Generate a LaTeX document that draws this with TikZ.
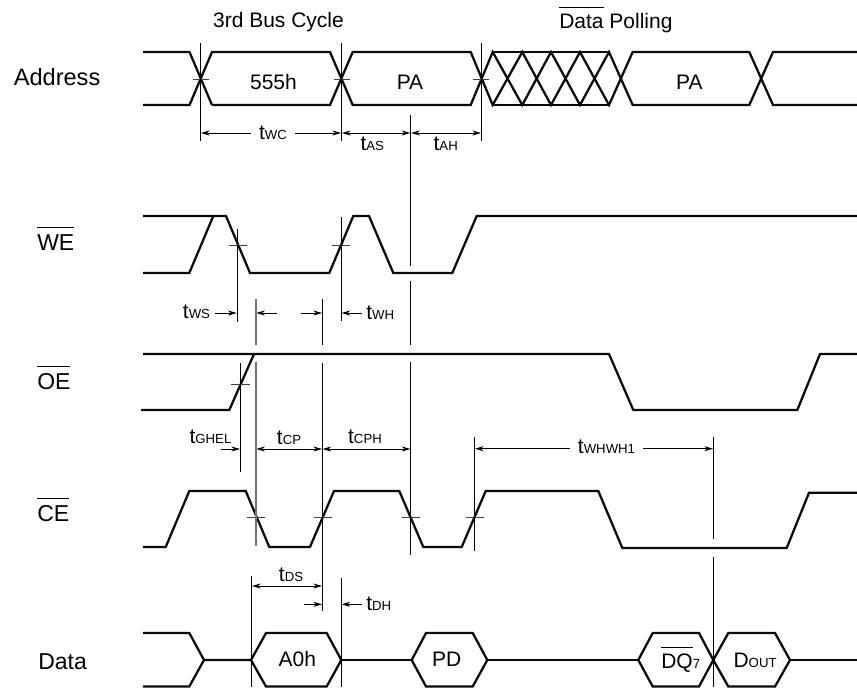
\documentclass[tikz,border=0pt]{standalone}
\usepackage{fontspec}
\usepackage{calc}
\setmainfont{Liberation Sans}
\usetikzlibrary{arrows.meta}
\definecolor{sig}{HTML}{0A0A0A}
\newcommand{\bigf}{\fontsize{15.75}{18}\selectfont}
\newcommand{\lblf}{\fontsize{17.25}{20}\selectfont}
\newcommand{\smf}{\fontsize{9.9}{12}\selectfont}
\newcommand{\tm}[1]{{\bigf t}{\smf #1}}
\newcommand{\ovl}[1]{\leavevmode\rlap{\raisebox{0.98em}{\rule{\widthof{#1}}{0.55pt}}}#1}
\tikzset{
  x=0.75pt,y=-0.75pt,
  signal/.style={line width=1.7pt,color=sig,line join=miter},
  thin line/.style={line width=0.7pt,color=black},
  grey line/.style={line width=1.2pt,color=black!55},
  tick mark/.style={line width=0.6pt,color=black!75},
  dim/.style={line width=0.65pt,color=black,{Stealth[length=6.5pt,width=3.8pt]}-{Stealth[length=6.5pt,width=3.8pt]}},
  dimr/.style={line width=0.65pt,color=black,-{Stealth[length=6.5pt,width=3.8pt]}},
  txt/.style={inner sep=0pt,font=\bigf,text=black,anchor=base},
  lbl/.style={inner sep=0pt,font=\lblf,text=black,anchor=base west},
  sub/.style={inner sep=0pt,text=black,anchor=base},
  subgap/.style={inner sep=0pt,text=black,anchor=base,fill=white,inner xsep=6pt,text height=10pt,text depth=1pt},
}
\begin{document}
\begin{tikzpicture}
\useasboundingbox (0,0) rectangle (857,687);
% ---- Address
\draw[signal] (143,52) -- (189.5,52) -- (212,105) (143,105) -- (189.5,105) -- (212,52)
  -- (330,52) -- (352.7,105) -- (470.7,105) -- (492.7,52) -- (522.3,105) -- (551,52) -- (580,105) -- (609,52) -- (632.7,105) -- (749.3,105) -- (773,52) -- (857,52);
\draw[signal] (212,105) -- (330,105) -- (352.7,52) -- (470.7,52) -- (492.7,105) -- (522.3,52) -- (551,105) -- (580,52) -- (609,105) -- (632.7,52) -- (749.3,52) -- (773,105) -- (857,105);
\draw[signal] (492.7,52) -- (609,52) (492.7,105) -- (609,105);
% ---- WE
\draw[signal] (143,216) -- (226,216) -- (250,273) -- (329.3,273) -- (353.3,216) -- (369,216) -- (393.3,273) -- (452.3,273) -- (476.7,216) -- (857,216);
\draw[signal] (143,273) -- (189.3,273) -- (213.3,216);
% ---- OE
\draw[signal] (143,354) -- (609,354) -- (633.3,410) -- (797.3,410) -- (820,354) -- (857,354);
\draw[signal] (141,410) -- (229.3,410) -- (254,354);
% ---- CE
\draw[signal] (143,547) -- (165.7,547) -- (189.3,491) -- (245.7,491) -- (269.3,547) -- (310,547) -- (334,491) -- (399.3,491) -- (423.3,547) -- (461.7,547) -- (485.7,491) -- (598.3,491) -- (622.3,548) -- (786.7,548) -- (809,492.7) -- (857,492.7);
% ---- Data
\draw[signal] (143,633) -- (189.3,633) -- (204,660) -- (189.3,686.5) -- (143,686.5) (204,660) -- (251,660);
\draw[signal] (251,660) -- (266,633) -- (326.7,633) -- (341.3,660) -- (326.7,686.5) -- (266,686.5) -- cycle;
\draw[signal] (341.3,660) -- (411.7,660);
\draw[signal] (411.7,660) -- (426,633) -- (472.7,633) -- (487.3,660) -- (472.7,686.5) -- (426,686.5) -- cycle;
\draw[signal] (487.3,660) -- (638.3,660);
\draw[signal] (638.3,660) -- (652.7,633) -- (699,633) -- (713.3,660) -- (699,686.5) -- (652.7,686.5) -- cycle;
\draw[signal] (713.3,660) -- (728.3,633) -- (775,633) -- (790,660) -- (775,686.5) -- (728.3,686.5) -- cycle;
\draw[signal] (790,660) -- (857,660);
% ---- Ticks
\foreach \x in {200.7,341.5,481.3} \draw[tick mark] (\x-8,79) -- (\x+8,79);
\foreach \x in {238,341.3} \draw[tick mark] (\x-9,245) -- (\x+9,245);
\draw[tick mark] (231,384) -- (249.5,384);
\foreach \x in {256,322.5,410.7,474.5} \draw[tick mark] (\x-9,517) -- (\x+9,517);
% ---- Verticals
\foreach \x in {200.7,341.5,481.3} \draw[thin line] (\x,43) -- (\x,141);
\draw[thin line] (410.7,115) -- (410.7,265.5) (410.7,281) -- (410.7,344.5) (410.7,362) -- (410.7,555);
\draw[thin line] (237,229) -- (237,322);
\draw[thin line] (341.3,217) -- (341.3,320.5);
\draw[grey line] (256,299) -- (256,344.5) (256,362) -- (256,546);
\draw[thin line] (322.3,299) -- (322.3,345) (322.3,363) -- (322.3,611);
\draw[thin line] (240.3,363) -- (240.3,471.5);
\draw[thin line] (474.7,436.5) -- (474.7,551);
\draw[thin line] (713.3,436.5) -- (713.3,539) (713.3,557) -- (713.3,686.5);
\draw[thin line] (251.7,576) -- (251.7,686.5);
\draw[thin line] (341.3,578) -- (341.3,686.5);
% ---- Dimension arrows
\draw[dim] (201,133) -- (341,133);
\draw[dim] (342,133) -- (410.3,133);
\draw[dim] (411.2,133) -- (481,133);
\draw[dimr] (215,313) -- (236.7,313);
\draw[dimr] (276.7,313) -- (256.3,313);
\draw[dimr] (300.7,313) -- (322,313);
\draw[dimr] (362,313) -- (341.6,313);
\draw[dimr] (220.7,449) -- (240,449);
\draw[dim] (256.3,449) -- (322,449);
\draw[dim] (322.6,449) -- (410.4,449);
\draw[dim] (475,448.7) -- (713,448.7);
\draw[dim] (252,586) -- (322,586);
\draw[dimr] (304,604.3) -- (322,604.3);
\draw[dimr] (361.7,604.3) -- (341.6,604.3);
% ---- Labels
\node[lbl] (lAddr) at (13.5,85) {\fontsize{17.7}{20}\selectfont Address};
\node[lbl] (lWE) at (37,250) {\ovl{WE}};
\node[lbl] (lOE) at (37,389) {\ovl{OE}};
\node[lbl] (lCE) at (37,521.7) {\ovl{CE}};
\node[lbl] (lData) at (38,669.3) {Data};
\node[txt] (hCycle) at (278.5,27.5) {3rd Bus Cycle};
\node[txt,anchor=base west] (hPoll) at (559,28.3) {\ovl{Data} Polling};
\node[txt] (v1) at (273.5,89) {555h};
\node[txt] (v2) at (410,89) {PA};
\node[txt] (v3) at (689.3,89) {PA};
\node[txt] (v4) at (297.3,666.7) {A0h};
\node[txt] (v5) at (446.7,666.7) {PD};
\node[subgap] (twc) at (273,139) {\tm{WC}};
\node[sub] (tas) at (372.3,150.7) {\tm{AS}};
\node[sub] (tah) at (445.7,150.7) {\tm{AH}};
\node[sub] (tws) at (196.5,318.3) {\tm{WS}};
\node[sub,anchor=base west] (twh) at (366,319.5) {\tm{WH}};
\node[sub] (tghel) at (210.5,443.3) {\tm{GHEL}};
\node[sub] (tcp) at (289,444.3) {\tm{CP}};
\node[sub] (tcph) at (365,443.3) {\tm{CPH}};
\node[subgap] (twhwh) at (606.5,453.3) {\tm{WHWH1}};
\node[sub] (tds) at (291,581.7) {\tm{DS}};
\node[sub,anchor=base west] (tdh) at (366,610) {\tm{DH}};
\node[txt,anchor=base west] (dq) at (661,668.3) {\ovl{DQ}{\smf 7}};
\node[txt,anchor=base west] (dout) at (733.3,667.3) {D{\smf OUT}};
\end{tikzpicture}
\end{document}
